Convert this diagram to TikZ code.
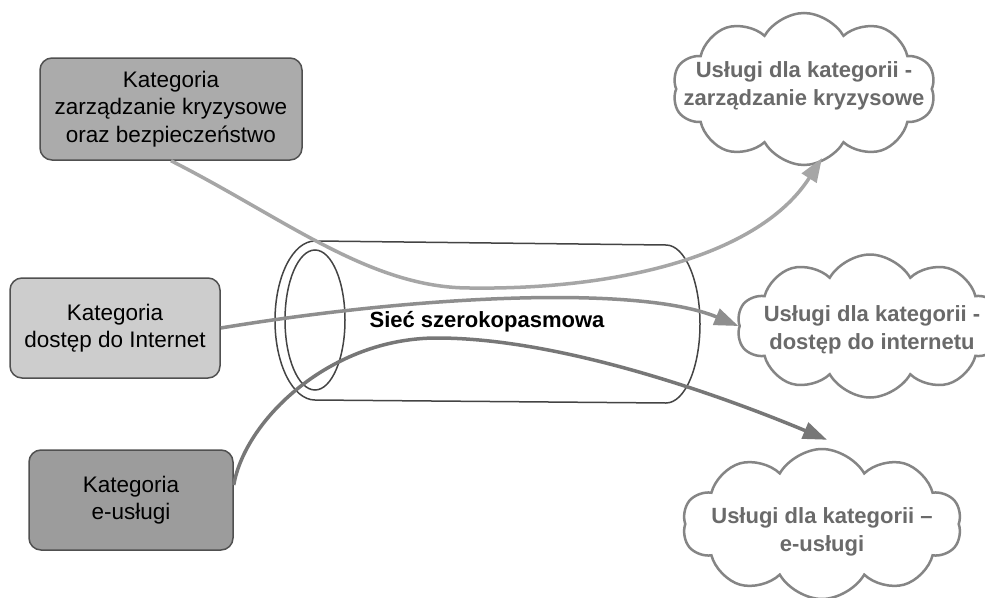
\documentclass[tikz,border=0pt]{standalone}
\usepackage{fontspec}
\setmainfont{Liberation Sans}
\usetikzlibrary{shapes.symbols,arrows.meta,calc}
\definecolor{boxA}{HTML}{ABABAB}
\definecolor{boxB}{HTML}{CDCDCD}
\definecolor{boxC}{HTML}{9C9C9C}
\definecolor{boxline}{HTML}{505050}
\definecolor{cloudline}{HTML}{858585}
\definecolor{cloudtext}{HTML}{6A6A6A}
\definecolor{cylline}{HTML}{444444}
\definecolor{arrA}{HTML}{A6A6A6}
\definecolor{arrB}{HTML}{8E8E8E}
\definecolor{arrC}{HTML}{777777}
\begin{document}
\begin{tikzpicture}[x=1pt,y=1pt,
  catbox/.style={draw=boxline, line width=1.5pt, rounded corners=12pt, align=center,
    inner sep=0pt, font=\fontsize{22.5}{27.5}\selectfont, text=black},
  svc/.style={cloud, cloud puffs=10, cloud puff arc=120, cloud ignores aspect,
    draw=cloudline, line width=2.5pt, inner sep=0pt, fill=white},
  svctext/.style={align=center, inner sep=0pt, text=cloudtext,
    font=\fontsize{22}{28}\selectfont\bfseries},
  link/.style={line width=3.5pt, -{Triangle[length=24pt,width=17pt]}},
]
\useasboundingbox (0,0) rectangle (985,-597);
\fill[white] (0,0) rectangle (985,-597);

% tube
\draw[draw=cylline, line width=1.5pt, fill=white]
  (317,-241) -- (666,-245) arc[start angle=90, end angle=-90, x radius=34, y radius=79]
  -- (315,-400) arc[start angle=270, end angle=90, x radius=40, y radius=79.5] -- cycle;
\draw[draw=cylline, line width=1.5pt] (315,-320) ellipse[x radius=30, y radius=70];
\node[font=\fontsize{22}{26}\selectfont\bfseries, inner sep=0pt] (net) at (487,-322) {Sieć szerokopasmowa};

% category boxes
\node[catbox, fill=boxA, minimum width=262pt, minimum height=102pt] (b1) at (171,-109)
  {Kategoria\\zarządzanie kryzysowe\\oraz bezpieczeństwo};
\node[catbox, fill=boxB, minimum width=210pt, minimum height=100pt] (b2) at (115,-328)
  {Kategoria\\dostęp do Internet};
\node[catbox, fill=boxC, minimum width=204pt, minimum height=100pt] (b3) at (131,-500)
  {Kategoria\\e-usługi};

% service clouds
\node[svc, minimum width=263pt, minimum height=152pt] (c1) at (804,-89) {};
\node[svctext] (t1) at (804,-86) {Usługi dla kategorii -\\zarządzanie kryzysowe};
\node[svc, minimum width=266pt, minimum height=143pt] (c2) at (870,-326) {};
\node[svctext] (t2) at (872,-330) {Usługi dla kategorii -\\dostęp do internetu};
\node[svc, minimum width=279pt, minimum height=150pt] (c3) at (822,-524) {};
\node[svctext] (t3) at (822,-532) {Usługi dla kategorii –\\e-usługi};

% connectors
\draw[link, draw=arrA] (b1.south)
  .. controls (284,-218) and (370,-288) .. (470,-288)
  .. controls (620,-290) and (760,-255) .. ($(c1.center)+(18,-69)$);
\draw[link, draw=arrB] (b2.east)
  .. controls (420,-295) and (640,-285) .. (c2.west);
\draw[link, draw=arrC] ($(b3.east)+(0,15)$)
  .. controls (245,-420) and (330,-338) .. (437,-338)
  .. controls (560,-338) and (720,-395) .. ($(c3.north)+(5,8)$);
\end{tikzpicture}
\end{document}
